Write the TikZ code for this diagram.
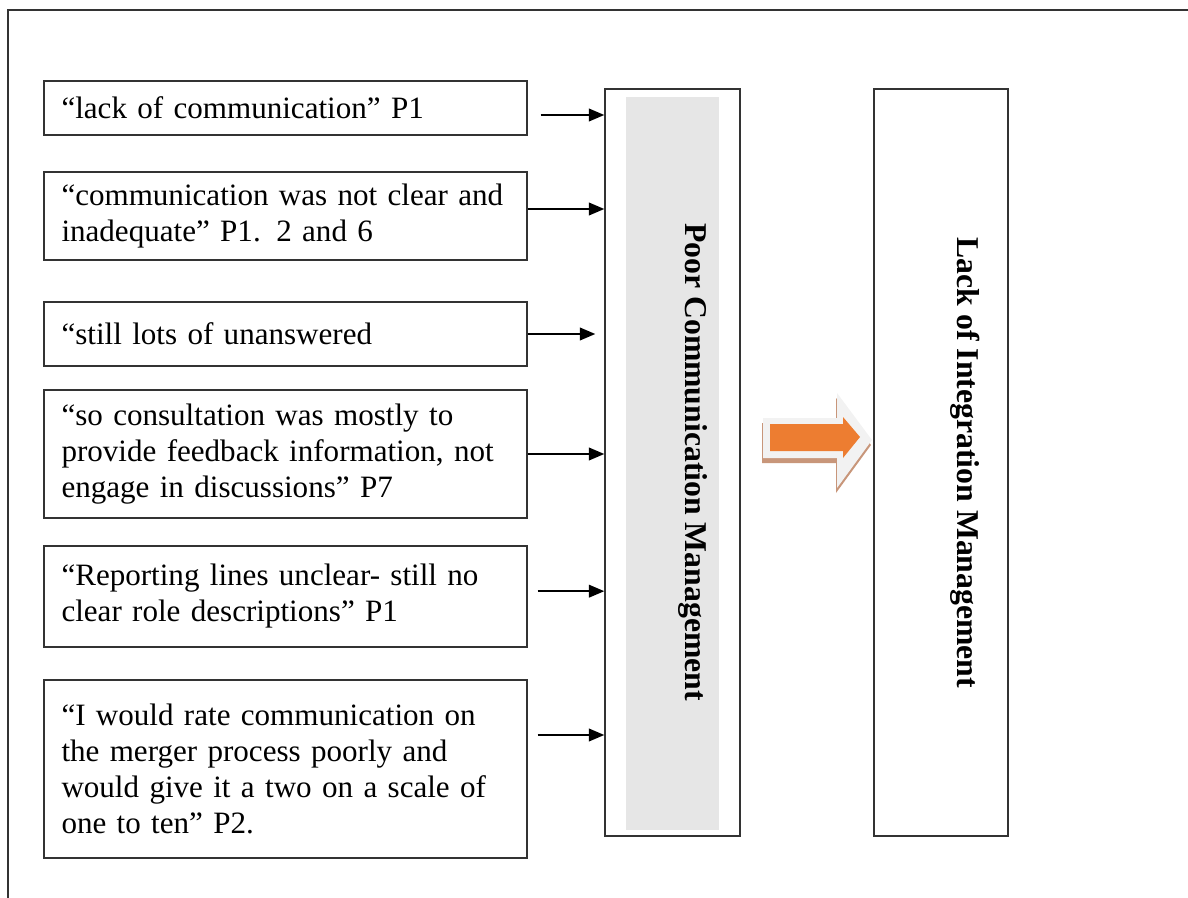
\documentclass[tikz,border=0pt]{standalone}
\usepackage{fontspec}
\setmainfont{Liberation Serif}
\usetikzlibrary{arrows.meta}

\tikzset{every picture/.style={line width=0.75pt}}
\tikzset{
  quote/.style={draw=black!80, line width=1.1pt, minimum width=362.25pt, text width=336pt,
    inner xsep=13pt, inner ysep=2pt, align=left, font=\fontsize{23.3}{27}\selectfont},
  stage/.style={draw=black!80, line width=1.1pt, minimum height=560.25pt},
  feed/.style={line width=1.1pt, -{Triangle[length=11.5pt,width=9.5pt]}},
  vlabel/.style={rotate=-90, inner sep=0pt, font=\fontsize{23.8}{27}\selectfont\bfseries}
}

\begin{document}
\begin{tikzpicture}[x=0.75pt,y=0.75pt,yscale=-1,xscale=1]
\useasboundingbox (0,0) rectangle (1188,898);

%Outer frame
\draw [line width=1.1pt, color=black!80] (8,898) -- (8,10) -- (1188,10) ;

%Quote boxes
\node [quote, minimum height=40.5pt] (q1) at (285.5,108) {“lack of communication” P1};
\node [quote, minimum height=66pt] (q2) at (285.5,216) {“communication was not clear and\\inadequate” P1. 2 and 6};
\node [quote, minimum height=48pt] (q3) at (285.5,334) {“still lots of unanswered};
\node [quote, minimum height=96pt] (q4) at (285.5,454) {“so consultation was mostly to\\provide feedback information, not\\engage in discussions” P7};
\node [quote, minimum height=75.75pt] (q5) at (285.5,596.5) {“Reporting lines unclear- still no\\clear role descriptions” P1};
\node [quote, minimum height=133.5pt] (q6) at (285.5,769) {“I would rate communication on\\the merger process poorly and\\would give it a two on a scale of\\one to ten” P2.};

%Poor communication box
\node [stage, minimum width=101.25pt] (pcm) at (672.5,462.5) {};
\fill [color={rgb, 255:red, 230; green, 230; blue, 230 }] (626,97) rectangle (719,830) ;
\node [vlabel] (pcmtext) at (693,462) {Poor Communication Management};

%Integration box
\node [stage, minimum width=100.5pt] (lim) at (941,462.5) {};
\node [vlabel] (limtext) at (965,463) {Lack of Integration Management};

%Connectors
\draw [feed, shorten <=9.75pt] ([yshift=5.25pt]q1.east) -- ([yshift=5.25pt]q1.east -| pcm.west) ;
\draw [feed] ([yshift=-5.25pt]q2.east) -- ([yshift=-5.25pt]q2.east -| pcm.west) ;
\draw [feed, shorten >=6.75pt] (q3.east) -- (q3.east -| pcm.west) ;
\draw [feed] (q4.east) -- (q4.east -| pcm.west) ;
\draw [feed, shorten <=7.5pt] ([yshift=-4pt]q5.east) -- ([yshift=-4pt]q5.east -| pcm.west) ;
\draw [feed, shorten <=7.5pt] ([yshift=-25.5pt]q6.east) -- ([yshift=-25.5pt]q6.east -| pcm.west) ;

%Block arrow
\fill [color={rgb, 255:red, 200; green, 150; blue, 122 }] (762,423) -- (836,423) -- (836,398) -- (871,445) -- (836,493) -- (836,463) -- (762,463) -- cycle ;
\fill [color={rgb, 255:red, 242; green, 242; blue, 242 }] (763,418) -- (837,418) -- (837,393) -- (872,440) -- (837,488) -- (837,458) -- (763,458) -- cycle ;
\fill [color={rgb, 255:red, 237; green, 125; blue, 49 }] (770,424) -- (843,424) -- (843,417) -- (860,437) -- (843,458) -- (843,451) -- (770,451) -- cycle ;

\end{tikzpicture}
\end{document}
